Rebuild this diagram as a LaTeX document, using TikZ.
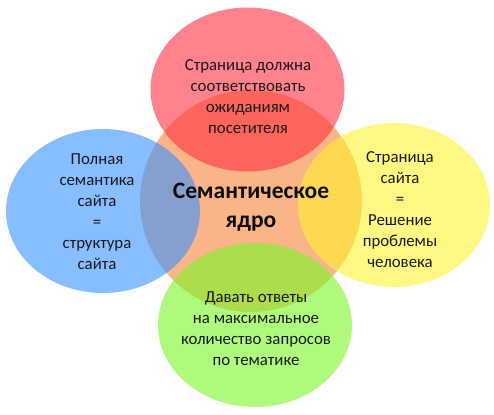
\documentclass[tikz,border=0pt]{standalone}
\usepackage{fontspec}
\setmainfont{Carlito}
\definecolor{cOrange}{RGB}{250,180,135}
\definecolor{cRed}{RGB}{255,47,63}
\definecolor{cBlue}{RGB}{55,147,255}
\definecolor{cYellow}{RGB}{255,243,47}
\definecolor{cGreen}{RGB}{122,247,38}
\tikzset{
  petal/.style={fill opacity=0.6},
  smalltext/.style={align=center, text=black!90, font=\fontsize{16.8}{21}\selectfont, inner sep=0pt},
  bigtext/.style={align=center, text=black!95, font=\fontsize{23.5}{29.5}\selectfont\bfseries, inner sep=0pt}
}
\begin{document}
\begin{tikzpicture}[x=1pt,y=-1pt]
\useasboundingbox (0,0) rectangle (494,414);
\fill[cOrange] (251,201) circle (111);
\fill[cRed,petal] (247.5,89.5) ellipse [x radius=97, y radius=82];
\fill[cBlue,petal] (103,211) ellipse [x radius=97, y radius=82];
\fill[cYellow,petal] (394,205) ellipse [x radius=96, y radius=82];
\fill[cGreen,petal] (255,325) ellipse [x radius=97, y radius=82];
\node[bigtext] (core) at (251,207) {Семантическое\\ядро};
\node[smalltext] (top) at (248,97) {Страница должна\\соответствовать\\ожиданиям\\посетителя};
\node[smalltext] (left) at (97,212) {Полная\\семантика\\сайта\\=\\структура\\сайта};
\node[smalltext] (right) at (400,210) {Страница\\сайта\\=\\Решение\\проблемы\\человека};
\node[smalltext] (bottom) at (256,329) {Давать ответы\\на максимальное\\количество запросов\\по тематике};
\end{tikzpicture}
\end{document}
